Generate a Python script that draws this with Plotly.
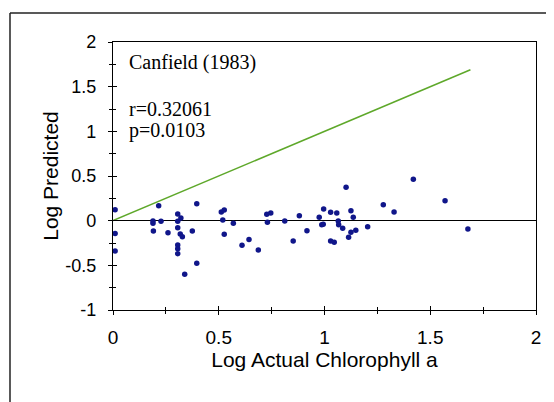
import plotly.graph_objects as go

# Log actual vs log predicted chlorophyll a (Canfield 1983)
log_actual = [
    0.01, 0.01, 0.01, 0.216, 0.189, 0.189, 0.227, 0.191, 0.26, 0.306,
    0.321, 0.306, 0.306, 0.318, 0.328, 0.306, 0.306, 0.306, 0.339, 0.396,
    0.375, 0.396, 0.512, 0.526, 0.519, 0.569, 0.526, 0.61, 0.643, 0.687,
    0.727, 0.746, 0.73, 0.812, 0.852, 0.881, 0.917, 0.975, 0.987, 0.994,
    0.996, 1.029, 1.058, 1.065, 1.067, 1.029, 1.046, 1.086, 1.102, 1.114,
    1.125, 1.136, 1.125, 1.148, 1.204, 1.278, 1.329, 1.42, 1.57, 1.678,
]
log_predicted = [
    0.123, -0.145, -0.339, 0.168, -0.003, -0.029, -0.007, -0.115, -0.134, 0.075,
    0.03, -0.007, -0.078, -0.149, -0.179, -0.272, -0.313, -0.369, -0.599, 0.19,
    -0.115, -0.476, 0.097, 0.12, 0.008, -0.029, -0.152, -0.275, -0.212, -0.327,
    0.072, 0.086, -0.018, -0.003, -0.227, 0.056, -0.112, 0.038, -0.045, -0.04,
    0.131, 0.094, 0.086, -0.003, -0.045, -0.227, -0.241, -0.085, 0.373, -0.185,
    0.112, 0.038, -0.13, -0.107, -0.067, 0.179, 0.097, 0.463, 0.223, -0.093,
]
one_to_one = [0, 1.69]
stats_text = ["Canfield (1983)", "r=0.32061", "p=0.0103"]
stats_y = [1.773, 1.248, 1.006]
y_tickvals = [-1, -0.5, 0, 0.5, 1, 1.5, 2]
y_ticktext = ["-1", "-0.5", "0", "0.5", "1", "1.5", "2"]

sans = "Liberation Sans, Arial, sans-serif"
serif = "Liberation Serif, Times New Roman, serif"

fig = go.Figure()
fig.add_trace(go.Scatter(
    x=one_to_one, y=one_to_one, mode="lines",
    line=dict(color="#5ea82a", width=1.5), showlegend=False,
))
fig.add_trace(go.Scatter(
    x=log_actual, y=log_predicted, mode="markers",
    marker=dict(color="#10168a", size=5.5), showlegend=False,
))
# invisible trace so the overlay axes (inner half of the cross ticks) get drawn
fig.add_trace(go.Scatter(x=[0], y=[0], xaxis="x2", yaxis="y2",
                         mode="markers", marker=dict(opacity=0),
                         showlegend=False, hoverinfo="skip"))

for txt, yy in zip(stats_text, stats_y):
    fig.add_annotation(x=0.066, y=yy, text=txt, showarrow=False,
                       xanchor="left", yanchor="middle",
                       font=dict(family=serif, size=20, color="black"))

axis_common = dict(
    showgrid=False, showline=True, linecolor="black", linewidth=1.2,
    ticks="outside", ticklen=4, tickcolor="black",
    minor=dict(ticks="outside", ticklen=3, dtick=0.25, tickcolor="black"),
)
inner_ticks = dict(
    ticks="inside", ticklen=4, tickcolor="black",
    showticklabels=False, showgrid=False, zeroline=False,
    minor=dict(ticks="inside", ticklen=3, dtick=0.25, tickcolor="black"),
)

# page body has an 8px margin, so the figure is shrunk by that much
fig.update_layout(
    width=546, height=394,
    paper_bgcolor="white", plot_bgcolor="white",
    margin=dict(l=105, r=18, t=34, b=92),
    xaxis=dict(axis_common, range=[0, 2], dtick=0.5, mirror=True,
               zeroline=False, ticklabelstandoff=6,
               tickfont=dict(family=sans, size=19, color="black"),
               title=dict(text="Log Actual Chlorophyll a", standoff=2,
                          font=dict(family=sans, size=21, color="black"))),
    yaxis=dict(axis_common, range=[-1, 2], tickvals=y_tickvals,
               ticktext=y_ticktext, mirror=True,
               zeroline=True, zerolinecolor="black", zerolinewidth=1.2,
               ticklabelstandoff=8,
               tickfont=dict(family=sans, size=18, color="black"),
               title=dict(text="Log Predicted", standoff=0,
                          font=dict(family=sans, size=21, color="black"))),
    xaxis2=dict(inner_ticks, overlaying="x", anchor="y", range=[0, 2], dtick=0.5),
    yaxis2=dict(inner_ticks, overlaying="y", anchor="x", range=[-1, 2], dtick=0.5),
    shapes=[
        dict(type="line", xref="paper", yref="paper", x0=-0.2435, x1=1.2,
             y0=1.1082, y1=1.1082, line=dict(color="#222", width=1.5)),
        dict(type="line", xref="paper", yref="paper", x0=-0.2435, x1=-0.2435,
             y0=1.1082, y1=-0.5, line=dict(color="#222", width=1.5)),
    ],
)

fig.write_html("out.html")
